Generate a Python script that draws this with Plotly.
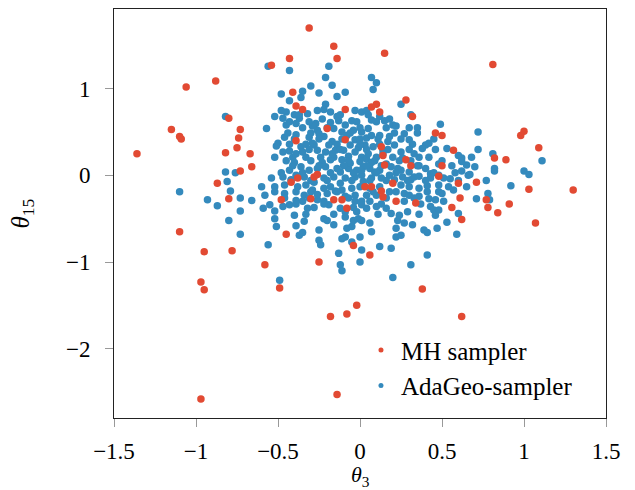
import plotly.graph_objects as go

# MH sampler samples (theta_3, theta_15)
mh_x = [-0.31, -0.16, -0.14, -0.43, -0.54, -0.88, -1.06, -0.41, -0.09, -0.39,
        -0.35, -0.80, -0.20, -1.15, -0.73, -1.10, -1.09, -0.74, -0.09, -0.39,
        -0.75, -1.36, -0.82, -0.67, -0.66, -0.73, -0.38, -0.28, -0.26,
        0.15, 0.81, 0.28, 0.10, 0.07, 0.12, 0.32, 0.46, 0.50, 1.00,
        0.98, 1.09, 0.13, 0.57, 0.14, 0.28, 0.82, 0.89, 0.15, 0.31,
        0.50, 0.48,
        -0.87, -0.42, -0.80, -0.48, -0.30, -0.16, -0.11, -0.08, -1.10, -0.45,
        -0.95, -0.78, -0.04, -0.58, -0.25, -0.97, -0.95, -0.49, -0.02, -0.18,
        -0.08, -0.97, -0.14,
        0.03, 0.07, 0.20, 0.13, 0.14, 0.22, 0.34, 0.60, 0.71, 0.61,
        0.56, 0.77, 0.78, 0.84, 0.91, 1.03, 1.30, 0.62, 1.07, 0.06,
        0.38, 0.62]
mh_y = [1.70, 1.49, 1.35, 1.35, 1.27, 1.09, 1.02, 0.96, 0.76, 0.80,
        0.76, 0.66, 0.54, 0.53, 0.53, 0.45, 0.42, 0.43, 0.41, 0.40,
        0.32, 0.25, 0.26, 0.25, 0.10, 0.05, -0.03, -0.02, 0.01,
        1.41, 1.28, 0.87, 0.82, 0.79, 0.73, 0.68, 0.49, 0.46, 0.51,
        0.46, 0.32, 0.33, 0.29, 0.23, 0.18, 0.20, 0.18, 0.12, 0.11,
        0.11, -0.01,
        -0.09, -0.08, -0.27, -0.28, -0.27, -0.28, -0.28, -0.38, -0.65, -0.68,
        -0.88, -0.87, -0.81, -1.03, -1.00, -1.23, -1.32, -1.30, -1.50, -1.63,
        -1.60, -2.58, -2.53,
        -0.13, -0.13, -0.09, -0.18, -0.25, -0.30, -0.32, -0.09, -0.08, -0.26,
        -0.37, -0.28, -0.37, -0.43, -0.33, -0.16, -0.17, -0.51, -0.55, -0.92,
        -1.31, -1.63]

# AdaGeo-sampler samples (theta_3, theta_15)
ada_x = [
    # upper-left core
    -0.56, -0.43, -0.19, -0.21, -0.17, -0.30, -0.35, -0.48, -0.25, -0.09,
    -0.14, -0.43, -0.36, -0.21, -0.48, -0.45, -0.52, -0.40, -0.32, -0.26,
    -0.22, -0.18, -0.14, -0.03, 0.01, -0.47, -0.39, -0.27, -0.23, -0.13,
    -0.05, -0.45, -0.57, -0.26, -0.25, -0.16, -0.11, -0.04, 0.01, -0.39,
    -0.31, -0.22, -0.17, -0.11, -0.03, -0.50, -0.51, -0.36, -0.28, -0.19,
    -0.06, -0.01, -0.43, -0.35, -0.26, -0.21, -0.10, -0.03, -0.52, -0.41,
    -0.33, -0.24, -0.16, -0.07, 0.01,
    # upper-right core
    0.07, 0.10, 0.08, 0.25, 0.31, 0.04, 0.12, 0.15, 0.18, 0.20,
    0.22, 0.35, 0.49, 0.27, 0.05, 0.12, 0.18, 0.17, 0.04, 0.08,
    0.40, 0.42, 0.38, 0.53, 0.25, 0.10, 0.20, 0.36, 0.42, 0.60,
    0.62, 0.04, 0.26,
    # lower-left core
    -0.18, -0.11, 0.00, -0.36, -0.31, -0.26, -0.21, -0.14, -0.07, -0.02,
    -0.54, -0.47, -0.39, -0.34, -0.22, -0.16, -0.09, -0.03, -0.60, -0.52,
    -0.46, -0.38, -0.33, -0.22, -0.18, -0.11, -0.05, 0.00, -0.58, -0.46,
    -0.39, -0.34, -0.20, -0.03, -0.35, -0.26, -0.22, -0.03, -0.59, -0.55,
    -0.47, -0.43, -0.32, -0.28, -0.04, 0.01, -0.52, -0.40, -0.22, -0.20,
    -0.09, -0.04, -0.01, -0.51, -0.39, -0.34, -0.16, -0.08, -0.05, -0.37,
    -0.35, -0.25, -0.09, -0.11, 0.00, -0.05, -0.25, -0.24, -0.56, -0.13,
    -0.52, -0.09, -0.02,
    # lower-right core
    0.02, 0.06, 0.12, 0.19, 0.25, 0.30, 0.40, 0.62, 0.01, 0.07,
    0.13, 0.18, 0.26, 0.33, 0.43, 0.51, 0.55, 0.66, 0.02, 0.12,
    0.25, 0.30, 0.36, 0.48, 0.54, 0.65, 0.04, 0.10, 0.18, 0.27,
    0.30, 0.48, 0.50, 0.01, 0.06, 0.27, 0.42, 0.46, 0.51, 0.04,
    0.10, 0.16, 0.29, 0.43, 0.45, 0.48, 0.60, 0.24, 0.19, 0.46,
    0.01, 0.06, 0.07, 0.23, 0.22, 0.32, 0.39, 0.41, 0.47, 0.53,
    0.59, 0.22, 0.25, 0.01, 0.12, 0.19, 0.41, 0.27, 0.48, 0.36,
    0.43, 0.48,
    # outer points
    -0.82, -0.82, -0.76, -1.10, -0.93, -0.87, -0.81, -0.79, -0.73, -0.73,
    -0.80, -0.73, -0.66, -0.12, -0.11, -0.49, 0.00, 0.67, 0.77, 0.82,
    0.92, 1.00, 1.03, 0.71, 0.78, 0.79, 0.31, 0.20, 0.72, 0.72,
    0.68, 0.81, 0.70, 0.82, 1.11, 0.65, 0.62,
    # dense-core fill
    -0.40, -0.23, -0.06, -0.43, -0.12, 0.01, -0.28, -0.12, 0.02, -0.42,
    -0.29, -0.26, -0.09, -0.15, -0.19, -0.12, -0.39,
    0.07, 0.16, 0.23, 0.09, 0.21, 0.06, 0.31, 0.36, 0.41, 0.57, 0.36,
    -0.46, -0.29, -0.18, -0.09, -0.08, -0.47, -0.15, -0.29, -0.37,
    0.07, 0.03, 0.14, 0.21, 0.30, 0.07,
    -0.37, -0.12, 0.05,
    -0.43, -0.31, -0.02, 0.10,
    -0.35, -0.20, 0.00, 0.16, 0.30,
    -0.44, -0.30, -0.06, 0.21, 0.35,
    -0.40, -0.25, 0.00, 0.11, 0.25, 0.45,
    -0.43, -0.33, -0.14, 0.00, 0.12, 0.32,
    -0.31, -0.12, 0.04, 0.17, 0.30, 0.46,
    -0.39, -0.17, 0.05, 0.14, 0.33,
    -0.45, -0.30, -0.07, 0.09, 0.24, 0.31, 0.50,
    -0.41, -0.25, -0.10, 0.04, 0.13, 0.35, 0.56,
    -0.48, -0.35, -0.18, -0.04, 0.10, 0.22, 0.45, 0.58,
    -0.42, -0.30, -0.20, -0.05, 0.06, 0.16, 0.29, 0.40, 0.60,
    -0.52, -0.30, -0.14, 0.08, 0.22, 0.41,
    -0.46, -0.31, -0.07, 0.16, 0.33,
    -0.39, -0.22, 0.13, 0.37,
    -0.33, -0.16, 0.11, 0.36,
]
ada_y = [
    # upper-left core
    1.26, 1.21, 1.26, 1.13, 1.04, 1.03, 0.97, 0.94, 0.95, 0.96,
    0.91, 0.86, 0.90, 0.82, 0.75, 0.73, 0.68, 0.70, 0.71, 0.75,
    0.76, 0.73, 0.68, 0.75, 0.73, 0.66, 0.60, 0.60, 0.65, 0.63,
    0.63, 0.58, 0.54, 0.52, 0.48, 0.54, 0.50, 0.52, 0.50, 0.47,
    0.44, 0.45, 0.39, 0.42, 0.41, 0.37, 0.34, 0.33, 0.35, 0.35,
    0.35, 0.32, 0.28, 0.27, 0.29, 0.27, 0.29, 0.27, 0.21, 0.21,
    0.21, 0.21, 0.21, 0.22, 0.21,
    # upper-right core
    1.13, 1.07, 0.99, 0.82, 0.70, 0.75, 0.68, 0.63, 0.65, 0.58,
    0.57, 0.55, 0.59, 0.48, 0.54, 0.46, 0.45, 0.39, 0.43, 0.33,
    0.35, 0.37, 0.31, 0.31, 0.27, 0.21, 0.21, 0.21, 0.21, 0.23,
    0.20, 0.19, 0.20,
    # lower-left core
    0.18, 0.18, 0.16, 0.10, 0.06, 0.08, 0.10, 0.08, 0.08, 0.06,
    -0.03, -0.02, 0.00, -0.02, -0.03, -0.02, -0.03, -0.02, -0.13, -0.13,
    -0.11, -0.13, -0.11, -0.15, -0.13, -0.17, -0.15, -0.13, -0.23, -0.21,
    -0.19, -0.23, -0.21, -0.23, -0.30, -0.28, -0.30, -0.30, -0.38, -0.34,
    -0.36, -0.34, -0.38, -0.37, -0.37, -0.34, -0.50, -0.46, -0.50, -0.52,
    -0.48, -0.52, -0.50, -0.59, -0.58, -0.53, -0.57, -0.61, -0.59, -0.69,
    -0.66, -0.63, -0.71, -0.73, -0.71, -0.77, -0.75, -0.80, -0.80, -0.90,
    -0.41, -0.42, -0.42,
    # lower-right core
    0.10, 0.08, 0.06, 0.10, 0.06, 0.04, 0.08, 0.05, 0.00, -0.03,
    -0.03, 0.00, -0.02, -0.02, -0.03, -0.03, -0.04, 0.00, -0.11, -0.13,
    -0.11, -0.13, -0.15, -0.11, -0.13, -0.13, -0.23, -0.23, -0.19, -0.21,
    -0.23, -0.19, -0.21, -0.30, -0.30, -0.30, -0.27, -0.28, -0.30, -0.38,
    -0.36, -0.38, -0.42, -0.36, -0.40, -0.40, -0.44, -0.46, -0.44, -0.46,
    -0.52, -0.55, -0.65, -0.52, -0.61, -0.57, -0.63, -0.66, -0.61, -0.54,
    -0.68, -0.71, -0.69, -0.86, -0.82, -0.84, -0.92, -0.55, 0.13, 0.11,
    0.02, 0.00,
    # outer points
    0.68, 0.04, 0.03, -0.19, -0.28, -0.35, -0.07, -0.18, -0.26, -0.41,
    -0.52, -0.68, -0.29, -1.03, -1.10, -1.21, -1.00, 0.01, -0.06, 0.05,
    -0.12, 0.05, 0.01, -0.27, -0.21, -0.28, -1.03, -1.18, 0.50, 0.30,
    0.21, 0.25, 0.10, 0.08, 0.17, 0.12, 0.16,
    # dense-core fill
    0.15, 0.15, 0.14, 0.06, 0.04, 0.06, -0.08, -0.09, -0.07, -0.05,
    -0.17, -0.22, -0.24, -0.18, -0.34, -0.38, -0.29,
    0.15, 0.13, 0.08, 0.04, -0.05, -0.15, -0.05, -0.01, -0.12, -0.17, -0.24,
    0.44, 0.57, 0.61, 0.58, 0.46, 0.27, 0.29, 0.37, 0.66,
    0.64, 0.35, 0.29, 0.35, 0.41, 0.46,
    0.70, 0.70, 0.70,
    0.62, 0.62, 0.62, 0.62,
    0.55, 0.55, 0.55, 0.55, 0.55,
    0.49, 0.49, 0.49, 0.49, 0.49,
    0.42, 0.42, 0.42, 0.42, 0.42, 0.42,
    0.36, 0.36, 0.36, 0.36, 0.36, 0.36,
    0.30, 0.30, 0.30, 0.30, 0.30, 0.30,
    0.25, 0.25, 0.25, 0.25, 0.25,
    0.17, 0.17, 0.17, 0.17, 0.17, 0.17, 0.17,
    0.11, 0.11, 0.11, 0.11, 0.11, 0.11, 0.11,
    0.03, 0.03, 0.03, 0.03, 0.03, 0.03, 0.03, 0.03,
    -0.06, -0.06, -0.06, -0.06, -0.06, -0.06, -0.06, -0.06, -0.06,
    -0.19, -0.19, -0.19, -0.19, -0.19, -0.19,
    -0.26, -0.26, -0.26, -0.26, -0.26,
    -0.33, -0.33, -0.33, -0.33,
    -0.45, -0.45, -0.45, -0.45,
]

legend_names = ["MH sampler", "AdaGeo-sampler"]
x_title = "<i>θ</i><sub>3</sub>"
y_title = "<i>θ</i><sub>15</sub>"

RED = "#E24A33"
BLUE = "#348ABD"
FONT = "Liberation Serif, Times New Roman, serif"

fig = go.Figure()
fig.add_trace(go.Scatter(x=ada_x, y=ada_y, mode="markers", name=legend_names[1],
                         showlegend=False,
                         marker=dict(color=BLUE, size=7.5, line=dict(width=0))))
fig.add_trace(go.Scatter(x=mh_x, y=mh_y, mode="markers", name=legend_names[0],
                         showlegend=False,
                         marker=dict(color=RED, size=7.5, line=dict(width=0))))
# legend entries with the small legend dots
for nm, col in zip(legend_names, [RED, BLUE]):
    fig.add_trace(go.Scatter(x=[None], y=[None], mode="markers", name=nm,
                             marker=dict(color=col, size=5, line=dict(width=0))))

axis_common = dict(showgrid=False, zeroline=False, showline=True, mirror=True,
                   linecolor="#222", linewidth=1, ticks="outside", ticklen=8,
                   tickcolor="#999", tickwidth=1, automargin=False,
                   tickfont=dict(family=FONT, size=23, color="black"))

fig.update_layout(
    width=627, height=482,
    margin=dict(l=106, r=29, t=1, b=72, autoexpand=False),
    paper_bgcolor="white", plot_bgcolor="white",
    font=dict(family=FONT, color="black"),
    showlegend=True,
    legend=dict(x=0.502, y=0.222, xanchor="left", yanchor="top",
                traceorder="normal", bgcolor="rgba(0,0,0,0)",
                font=dict(family=FONT, size=25, color="black"),
                itemwidth=30, tracegroupgap=0),
    xaxis=dict(range=[-1.5, 1.5], tickvals=[-1.5, -1, -0.5, 0, 0.5, 1, 1.5],
               ticklabelstandoff=4, **axis_common),
    yaxis=dict(range=[-2.80, 1.92], tickvals=[-2, -1, 0, 1],
               ticklabelstandoff=10, **axis_common),
    annotations=[
        dict(text=x_title, xref="paper", yref="paper", x=0.5, y=0,
             xanchor="center", yanchor="middle", yshift=-58, showarrow=False,
             font=dict(family=FONT, size=22, color="black")),
        dict(text=y_title, xref="paper", yref="paper", x=0, y=0.5,
             xanchor="center", yanchor="middle", xshift=-92, textangle=-90,
             showarrow=False, font=dict(family=FONT, size=25, color="black")),
    ],
)

fig.write_html("out.html")
